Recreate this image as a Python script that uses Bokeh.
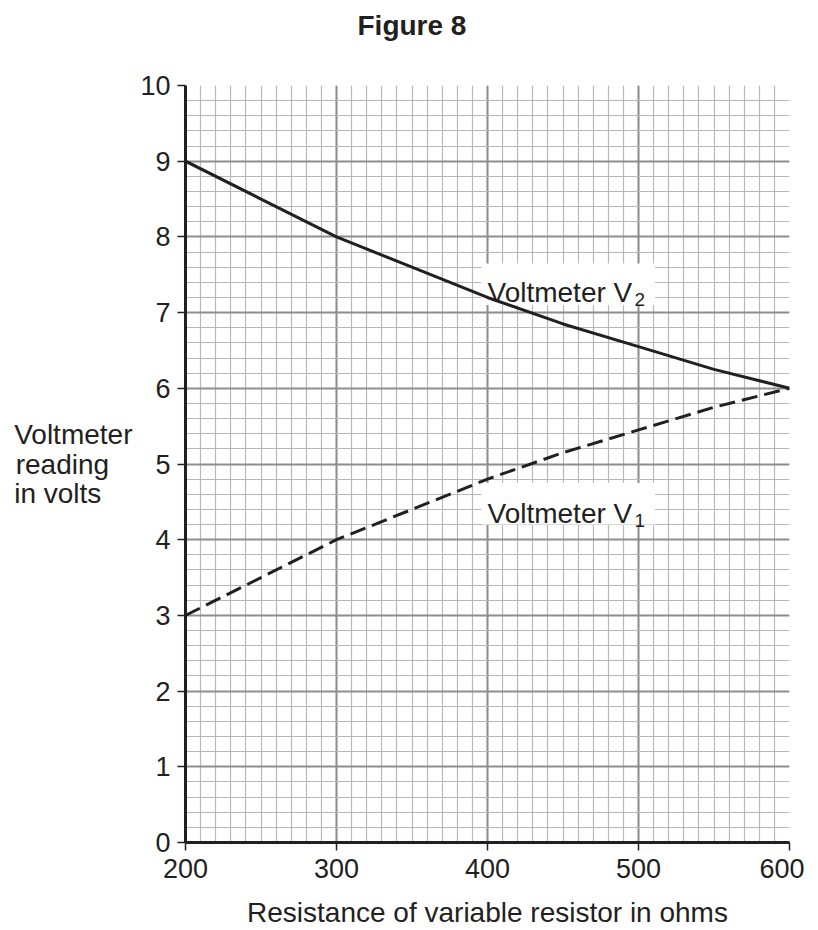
from bokeh.plotting import figure
from bokeh.models import Range1d, FixedTicker, Label
from bokeh.embed import file_html
from bokeh.resources import INLINE

# ---- data ----
resistance = [200, 250, 300, 350, 400, 450, 500, 550, 600]
v1_volts = [3.0, 3.5, 4.0, 4.4, 4.8, 5.15, 5.45, 5.75, 6.0]
v2_volts = [9.0, 8.5, 8.0, 7.6, 7.2, 6.85, 6.55, 6.25, 6.0]
x_major = [200, 300, 400, 500, 600]
x_minor = list(range(200, 601, 10))
y_major = list(range(0, 11))
y_minor = [round(i * 0.2, 1) for i in range(51)]

FONT = "Liberation Sans"
INK = "#231f20"
NB = "\u00a0"

p = figure(width=804, height=930,
           x_range=Range1d(200, 600), y_range=Range1d(0, 10),
           output_backend="svg", toolbar_location=None,
           min_border_left=185, min_border_right=15,
           min_border_top=85, min_border_bottom=87)
p.outline_line_color = None
p.background_fill_color = "white"
p.border_fill_color = "white"

# title (a blank second line lifts it away from the frame)
p.title.text = "Figure 8\n" + NB
p.title.text_font = FONT
p.title.text_font_size = "28px"
p.title.text_font_style = "bold"
p.title.text_color = INK
p.title.text_line_height = 1.2
p.title.align = "left"
p.title.offset = 172
p.title.standoff = 14

p.xaxis.ticker = FixedTicker(ticks=x_major, minor_ticks=x_minor)
p.yaxis.ticker = FixedTicker(ticks=y_major, minor_ticks=y_minor)

for ax in (p.xaxis, p.yaxis):
    ax.axis_line_color = INK
    ax.axis_line_width = 3
    ax.major_tick_line_color = INK
    ax.major_tick_line_width = 1.5
    ax.major_tick_out = 8
    ax.major_tick_in = 0
    ax.minor_tick_out = 0
    ax.minor_tick_in = 0
    ax.major_label_text_font = FONT
    ax.major_label_text_font_size = "27px"
    ax.major_label_text_color = INK
    ax.axis_label_text_font = FONT
    ax.axis_label_text_font_size = "28px"
    ax.axis_label_text_font_style = "normal"
    ax.axis_label_text_color = INK
p.xaxis.major_label_standoff = 8
p.yaxis.major_label_standoff = 7

p.xaxis.axis_label = "Resistance of variable resistor in ohms"
p.xaxis.major_label_text_line_height = 0.9
p.xaxis.axis_label_text_line_height = 0.8
p.xaxis.axis_label_standoff = 16

# left-aligned three-line label (padded so the right-aligned block reads left-aligned)
p.yaxis.axis_label = "Voltmeter\nreading" + NB * 3 + "\nin volts" + NB * 4
p.yaxis.axis_label_orientation = "horizontal"
p.yaxis.axis_label_text_line_height = 0.95
p.yaxis.axis_label_standoff = 5

for g in (p.xgrid, p.ygrid):
    g.grid_line_color = "#8d8d8d"
    g.grid_line_width = 2
    g.minor_grid_line_color = "#b8b8b8"
    g.minor_grid_line_width = 1.2

# white boxes behind the curve labels
p.quad(left=[396, 396], right=[511, 511], top=[7.65, 4.75], bottom=[7.10, 4.20],
       fill_color="white", line_color=None)

p.line(resistance, v2_volts, line_color=INK, line_width=3)
p.line(resistance, v1_volts, line_color=INK, line_width=3, line_dash="16 7")

def add_label(x, y, text, size, **kw):
    p.add_layout(Label(x=x, y=y, text=text, text_font=FONT, text_font_size=size,
                       text_color=INK, text_baseline="alphabetic", **kw))

# curve labels with subscripts
add_label(400, 7.27, "Voltmeter V", "28px")
add_label(400, 7.27, "2", "19px", x_offset=147, y_offset=-7)
add_label(400, 4.35, "Voltmeter V", "28px")
add_label(400, 4.35, "1", "19px", x_offset=147, y_offset=-7)

open("out.html", "w").write(file_html(p, INLINE))
